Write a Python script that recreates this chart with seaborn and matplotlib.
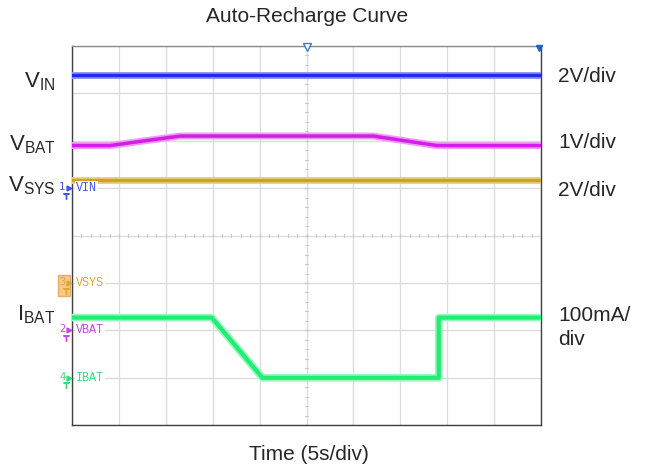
import numpy as np
import pandas as pd
import matplotlib
matplotlib.use("Agg")
import matplotlib.pyplot as plt
import seaborn as sns

# ------------------------------------------
# DATA (read off the scope capture)
# ------------------------------------------
# time axis: 10 divisions x 5 s
T_END = 50.0

vin_t = [0.0, 50.0]
vin_v = [4.78, 4.78]            # V, 2 V/div

vbat_t = [0.0, 4.05, 11.5, 32.1, 38.9, 50.0]
vbat_v = [3.90, 3.90, 4.10, 4.10, 3.90, 3.90]   # V, 1 V/div

vsys_t = [0.0, 50.0]
vsys_v = [4.35, 4.35]           # V, 2 V/div

ibat_t = [0.0, 14.9, 20.3, 39.1, 39.1, 50.0]
ibat_i = [127, 127, 0, 0, 127, 127]             # mA, 100 mA/div

# channel name, number, units per div, ground position (div from bottom)
channels = ["VIN", "VBAT", "VSYS", "IBAT"]
ch_numbers = [1, 2, 3, 4]
ch_scale = [2.0, 1.0, 2.0, 100.0]
ch_ground = [5.0, 2.0, 3.0, 1.0]

left_labels = [r"$\mathregular{V_{IN}}$", r"$\mathregular{V_{BAT}}$",
               r"$\mathregular{V_{SYS}}$", r"$\mathregular{I_{BAT}}$"]
right_labels = ["2V/div", "1V/div", "2V/div", "100mA/\ndiv"]
# baselines of the side labels (div from bottom)
label_y_left = [7.13, 5.79, 4.93, 2.21]
label_y_right = [7.25, 5.84, 4.84, 2.2]

TRACE_COLORS = ["#1f2de8", "#d21ee6", "#d4a21a", "#1fee72"]
HALO_COLORS = ["#8f98f5", "#ee9af5", "#ecd08a", "#9af7bf"]
TAG_COLORS = ["#3f55f0", "#cc44ee", "#dca83a", "#33e07a"]

# ------------------------------------------
# BUILD LONG TABLE IN DIVISIONS
# ------------------------------------------
raw = [(vin_t, vin_v), (vbat_t, vbat_v), (vsys_t, vsys_v), (ibat_t, ibat_i)]
frames = []
for name, (t, v), sc, gnd in zip(channels, raw, ch_scale, ch_ground):
    frames.append(pd.DataFrame({
        "time": t,
        "div": gnd + np.asarray(v, dtype=float) / sc,
        "channel": name,
    }))
df = pd.concat(frames, ignore_index=True)

# ------------------------------------------
# PLOT
# ------------------------------------------
sns.set_theme(style="white")
plt.rcParams["font.family"] = ["Liberation Sans", "DejaVu Sans"]
plt.rcParams["mathtext.fontset"] = "custom"
plt.rcParams["mathtext.rm"] = "Liberation Sans"

fig = plt.figure(figsize=(6.49, 4.71), dpi=100)
ax = fig.add_axes([72 / 649, 1 - 425.2 / 471, 469 / 649, 379.2 / 471])

ax.set_xlim(0, T_END)
ax.set_ylim(0, 8)

# scope graticule
ax.set_xticks(np.arange(0, 51, 5))
ax.set_yticks(np.arange(0, 9, 1))
ax.grid(True, color="#dcdcdc", linewidth=1.0)
ax.tick_params(left=False, bottom=False, labelleft=False, labelbottom=False)
for side, sp in ax.spines.items():
    sp.set_color("#404040")
    sp.set_linewidth(1.0)
ax.spines["top"].set_color("#8a8a8a")

# minor ticks on the centre cross
for xx in np.arange(0, 50.01, 1.0):
    ax.plot([xx, xx], [3.96, 4.04], color="#c8c8c8", lw=0.8, zorder=1)
for yy in np.arange(0, 8.01, 0.2):
    ax.plot([24.8, 25.2], [yy, yy], color="#c8c8c8", lw=0.8, zorder=1)

# traces (halo then core)
for name, core, halo in zip(channels, TRACE_COLORS, HALO_COLORS):
    sub = df[df["channel"] == name]
    width = 5.5 if name == "IBAT" else 5.0
    sns.lineplot(data=sub, x="time", y="div", ax=ax, color=halo, lw=width,
                 sort=False, estimator=None, legend=False, zorder=3)
    sns.lineplot(data=sub, x="time", y="div", ax=ax, color=core, lw=width - 2.5,
                 sort=False, estimator=None, legend=False, zorder=4)
ax.set_xlabel("")
ax.set_ylabel("")

# channel ground tags
for name, num, gnd, col in zip(channels, ch_numbers, ch_ground, TAG_COLORS):
    ax.text(0.4, gnd, name, color=col, fontsize=8.5, family="Liberation Mono",
            va="center", ha="left", zorder=5,
            bbox=dict(facecolor="white", edgecolor="none", pad=0.8))
    if name == "VSYS":
        ax.text(-0.85, gnd - 0.05, " ", fontsize=11, va="center", ha="center",
                clip_on=False, zorder=5,
                bbox=dict(facecolor="#f6c27c", edgecolor="#eaa850", pad=2.5,
                          alpha=0.9))
    ax.text(-1.05, gnd + 0.02, str(num), color=col, fontsize=7.5,
            family="DejaVu Sans Mono", va="center", ha="center",
            clip_on=False, zorder=6)
    ax.plot([-0.35], [gnd], marker=">", ms=3.5, color=col, clip_on=False, zorder=6)
    # small ground symbol under the arrow
    ax.plot([-0.65], [gnd - 0.16], marker="$\\top$", ms=4, color=col,
            clip_on=False, zorder=6)

# trigger marker and corner flag
ax.plot([25], [7.97], marker="v", ms=6, mfc="white", mec="#3a7bd5", mew=1.0,
        clip_on=False, zorder=7)
ax.plot([49.8], [7.95], marker="v", ms=4, color="#1f5fd8", clip_on=False, zorder=7)

# side labels
for lab, yy in zip(left_labels, label_y_left):
    ax.text(-1.75, yy, lab, fontsize=16, ha="right", va="baseline", clip_on=False)
for lab, yy in zip(right_labels, label_y_right):
    lines = lab.split("\n")
    for k, line in enumerate(lines):
        ax.text(51.8, yy - 0.51 * k, line, fontsize=15, ha="left",
                va="baseline", clip_on=False)

fig.text(307 / 649, 1 - 16 / 471, "Auto-Recharge Curve", fontsize=15,
         ha="center", va="center")
fig.text(309 / 649, 1 - 455 / 471, "Time (5s/div)", fontsize=15,
         ha="center", va="center")

fig.savefig("out.png", dpi=100)
plt.close(fig)
